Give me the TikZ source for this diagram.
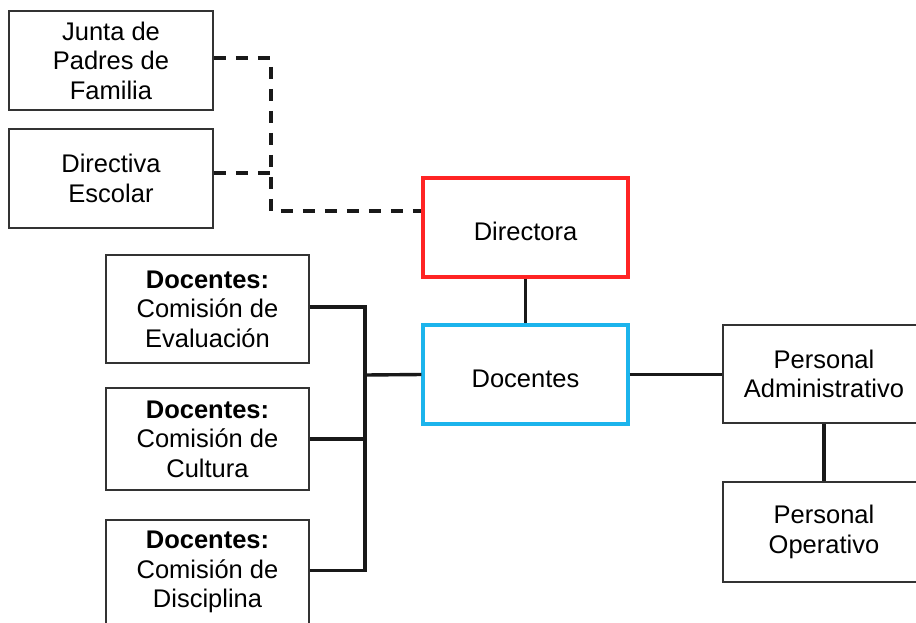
\documentclass[tikz,border=0pt]{standalone}
\usepackage{fontspec}
\setmainfont{Liberation Sans}
\definecolor{redb}{HTML}{FF2424}
\definecolor{cyanb}{HTML}{1CB4EC}
\definecolor{boxgray}{HTML}{333333}
\tikzset{
  orgbox/.style={draw=boxgray, line width=1.7pt, fill=white, inner sep=0pt,
    align=center, font=\fontsize{25.5}{29.5}\selectfont,
    execute at begin node={\rule{0pt}{26pt}}},
  conn/.style={line width=3.4pt, draw=black!90},
  dconn/.style={conn, dash pattern=on 12pt off 10pt}
}
\begin{document}
\begin{tikzpicture}[x=1pt,y=-1pt]
\clip (0,0) rectangle (916,622);
\fill[white] (0,0) rectangle (916,622);
% nodes
\node[orgbox, minimum width=204pt, minimum height=99pt] (junta) at (111,60.5) {Junta de\\Padres de\\Familia};
\node[orgbox, minimum width=204pt, minimum height=99pt] (directiva) at (111,178.5) {Directiva\\Escolar};
\node[orgbox, draw=redb, line width=3.2pt, minimum width=205pt, minimum height=99pt] (directora) at (525.5,227.5) {Directora};
\node[orgbox, draw=cyanb, line width=3.2pt, minimum width=205pt, minimum height=99pt] (docentes) at (525.5,374.5) {Docentes};
\node[orgbox, minimum width=203pt, minimum height=108pt] (eval) at (207.5,309) {\textbf{Docentes:}\\Comisión de\\Evaluación};
\node[orgbox, minimum width=203pt, minimum height=102pt] (cultura) at (207.5,439) {\textbf{Docentes:}\\Comisión de\\Cultura};
\node[orgbox, minimum width=203pt, minimum height=104pt] (disc) at (207.5,572) {\textbf{Docentes:}\\Comisión de\\Disciplina};
\node[orgbox, minimum width=202pt, minimum height=98pt] (admin) at (824,374) {Personal\\Administrativo};
\node[orgbox, minimum width=202pt, minimum height=100pt] (oper) at (824,532) {Personal\\Operativo};
% coordinates
\coordinate (dj) at (271,211);
\coordinate (bus) at (365,375);
% dashed connectors
\draw[dconn] ([yshift=2.5pt]junta.east) -| (dj) -- (dj -| directora.west);
\draw[dconn] ([yshift=5.5pt]directiva.east) -- ([yshift=5.5pt]directiva.east -| dj);
% solid connectors
\draw[conn] (directora.south) -- (docentes.north);
\draw[conn] (docentes.west) -- (bus);
\draw[conn] ([yshift=2pt]eval.east) -| (bus);
\draw[conn] (cultura.east) -- (cultura.east -| bus);
\draw[conn] ([yshift=1.5pt]disc.east) -| (bus);
\draw[conn] (docentes.east) -- (docentes.east -| admin.west);
\draw[conn] (admin.south) -- (oper.north);
\end{tikzpicture}
\end{document}
